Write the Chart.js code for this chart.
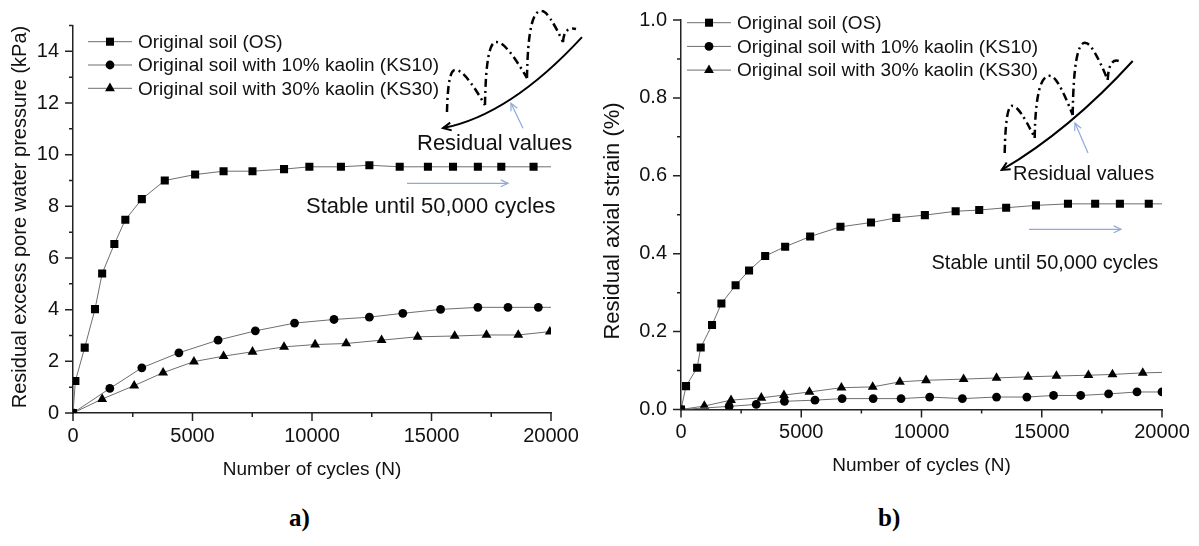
<!DOCTYPE html>
<html>
<head>
<meta charset="utf-8">
<title>Residual pore pressure and axial strain vs cycles</title>
<script src="https://cdn.jsdelivr.net/npm/chart.js@4.4.1/dist/chart.umd.min.js"></script>
<style>
    html, body { margin: 0; padding: 0; background: #fff; }
    #page { position: relative; width: 1199px; height: 546px; overflow: hidden; }
    canvas { position: absolute; top: 0; }
    #chartA { left: 0; }
    #chartB { left: 600px; }
    .tag { position: absolute; top: 504px; line-height: 1; color: #000;
           font: bold 25px "Liberation Serif", "Times New Roman", serif; }
</style>
</head>
<body>
<div id="page">
    <canvas id="chartA" width="600" height="490"></canvas>
    <canvas id="chartB" width="599" height="490"></canvas>
    <div class="tag" style="left:289px">a)</div>
    <div class="tag" style="left:878px">b)</div>
</div>
<script>
// Values
const cycleTicks = [0, 5000, 10000, 15000, 20000];
const cycleMinor = [2500, 7500, 12500, 17500];
const pressureTicks = [0, 2, 4, 6, 8, 10, 12, 14];
const pressureMinor = [1, 3, 5, 7, 9, 11, 13, 15];
const strainTicks = [0, 0.2, 0.4, 0.6, 0.8, 1.0];
const strainMinor = [0.1, 0.3, 0.5, 0.7, 0.9];

const seriesLabels = [
    'Original soil (OS)',
    'Original soil with 10% kaolin (KS10)',
    'Original soil with 30% kaolin (KS30)'
];

// a) residual excess pore water pressure (kPa)
const osCyclesA = [0, 100, 490, 920, 1220, 1730, 2190, 2880, 3840, 5110, 6300, 7510, 8830, 9890, 11210, 12400, 13670, 14850, 15900, 16940, 17920, 19270, 20500];
const osPressure = [0, 1.24, 2.53, 4.02, 5.40, 6.54, 7.48, 8.28, 9.00, 9.23, 9.36, 9.36, 9.44, 9.53, 9.53, 9.59, 9.53, 9.53, 9.53, 9.53, 9.53, 9.53, 9.53];
const ks10CyclesA = [0, 1540, 2880, 4430, 6070, 7630, 9270, 10920, 12400, 13800, 15380, 16940, 18200, 19470, 20500];
const ks10Pressure = [0, 0.95, 1.75, 2.33, 2.82, 3.18, 3.48, 3.62, 3.71, 3.86, 4.01, 4.09, 4.09, 4.09, 4.09];
const ks30CyclesA = [0, 1220, 2560, 3770, 5060, 6300, 7510, 8830, 10130, 11430, 12910, 14420, 15970, 17300, 18630, 19950];
const ks30Pressure = [0, 0.54, 1.06, 1.56, 1.99, 2.20, 2.37, 2.56, 2.65, 2.69, 2.82, 2.95, 2.98, 3.02, 3.02, 3.15];

// b) residual axial strain (%)
const osCyclesB = [0, 210, 670, 820, 1290, 1680, 2270, 2830, 3500, 4330, 5370, 6630, 7900, 8950, 10140, 11420, 12400, 13520, 14760, 16090, 17220, 18250, 19450, 20500];
const osStrain = [0, 0.060, 0.107, 0.159, 0.217, 0.272, 0.319, 0.357, 0.394, 0.418, 0.444, 0.469, 0.480, 0.492, 0.499, 0.509, 0.512, 0.518, 0.524, 0.528, 0.528, 0.528, 0.528, 0.528];
const ks10CyclesB = [0, 2000, 3130, 4300, 5570, 6700, 7990, 9150, 10340, 11700, 13120, 14380, 15490, 16620, 17780, 18960, 20000];
const ks10Strain = [0, 0.008, 0.013, 0.021, 0.024, 0.028, 0.028, 0.028, 0.032, 0.028, 0.032, 0.032, 0.036, 0.036, 0.040, 0.045, 0.045];
const ks30CyclesB = [0, 970, 2080, 3340, 4280, 5340, 6670, 7970, 9100, 10190, 11750, 13120, 14430, 15610, 16940, 17940, 19200, 20500];
const ks30Strain = [0, 0.009, 0.024, 0.030, 0.037, 0.045, 0.056, 0.058, 0.071, 0.075, 0.078, 0.081, 0.084, 0.086, 0.088, 0.090, 0.094, 0.096];

const FONT = '"Liberation Sans", Arial, sans-serif';
const INK = '#111';
const LINE_GREY = '#6e6e6e';
const NOTE_BLUE = '#8eaadb';

const markers = [
    { style: 'rect', radius: 5.7 },
    { style: 'circle', radius: 4.4 },
    { style: 'triangle', radius: 5.7 }
];

const panelA = {
    canvas: 'chartA',
    series: [[osCyclesA, osPressure], [ks10CyclesA, ks10Pressure], [ks30CyclesA, ks30Pressure]],
    yMax: 15, yTicks: pressureTicks, yMinor: pressureMinor, yFormat: v => String(v),
    yTitle: 'Residual excess pore water pressure (kPa)', yTitleSize: 20, yTitleAt: [20, 217],
    padding: { top: 25.5, right: 49, left: 0, bottom: 0 },
    yWidth: 73, xHeight: 77, xTitlePad: 8.6,
    legend: { x: 88, y: 41.7, step: 23.3 },
    noteSize: 22,
    residualText: [14393, 10.18], stableText: [9749, 7.73],
    stableArrow: [[13975, 8.89], [18200, 8.89]],
    residualArrow: [[18828, 11.02], [18326, 11.99]],
    sketchAt: [15481, 11.03],
    sketch: {
        ctrl: [67, -13], end: [139, -91],
        arches: [
            [[4, -16], [13, -58], [42, -23]],
            [[42, -23], [54, -86], [84, -50]],
            [[84, -50], [99, -117], [120, -86]],
            [[120, -86], [133, -99]]
        ]
    }
};

const panelB = {
    canvas: 'chartB',
    series: [[osCyclesB, osStrain], [ks10CyclesB, ks10Strain], [ks30CyclesB, ks30Strain]],
    yMax: 1.0, yTicks: strainTicks, yMinor: strainMinor, yFormat: v => v.toFixed(1),
    yTitle: 'Residual axial strain (%)', yTitleSize: 22, yTitleAt: [13, 221],
    padding: { top: 20, right: 37, left: 0, bottom: 0 },
    yWidth: 81, xHeight: 80.5, xTitlePad: 12.6,
    legend: { x: 87, y: 22.7, step: 23.7 },
    noteSize: 20,
    residualText: [13805, 0.589], stableText: [10416, 0.360],
    stableArrow: [[14470, 0.4626], [18295, 0.4626]],
    residualArrow: [[16923, 0.6585], [16383, 0.7355]],
    sketchAt: [13335, 0.615],
    sketch: {
        ctrl: [68, -40], end: [131, -109],
        arches: [
            [[3, -17], [11, -64], [33, -32]],
            [[33, -32], [49, -94], [71, -55]],
            [[71, -55], [84, -127], [106, -90]],
            [[106, -90], [117, -109]]
        ]
    }
};

function drawMarker(ctx, style, x, y, r) {
    ctx.beginPath();
    if (style === 'rect') {
        const s = r * Math.SQRT1_2;
        ctx.rect(x - s, y - s, 2 * s, 2 * s);
    } else if (style === 'circle') {
        ctx.arc(x, y, r, 0, Math.PI * 2);
    } else {
        ctx.moveTo(x, y - r);
        ctx.lineTo(x + r * 0.866, y + r * 0.5);
        ctx.lineTo(x - r * 0.866, y + r * 0.5);
        ctx.closePath();
    }
    ctx.fill();
}

function arrowHead(ctx, x, y, ang, len) {
    ctx.beginPath();
    ctx.moveTo(x - len * Math.cos(ang - 0.45), y - len * Math.sin(ang - 0.45));
    ctx.lineTo(x, y);
    ctx.lineTo(x - len * Math.cos(ang + 0.45), y - len * Math.sin(ang + 0.45));
    ctx.stroke();
}

function toPx(chart, pt) {
    return [chart.scales.x.getPixelForValue(pt[0]), chart.scales.y.getPixelForValue(pt[1])];
}

function drawTicks(ctx, chart, panel) {
    const area = chart.chartArea;
    const xs = chart.scales.x, ys = chart.scales.y;
    ctx.save();
    ctx.strokeStyle = '#222';
    ctx.lineWidth = 1.5;
    ctx.beginPath();
    const markX = (vals, len) => vals.forEach(v => {
        const p = xs.getPixelForValue(v);
        ctx.moveTo(p, area.bottom);
        ctx.lineTo(p, area.bottom + len);
    });
    const markY = (vals, len) => vals.forEach(v => {
        const p = ys.getPixelForValue(v);
        ctx.moveTo(area.left, p);
        ctx.lineTo(area.left - len, p);
    });
    markX(cycleTicks, 8);
    markX(cycleMinor, 4);
    markY(panel.yTicks, 8);
    markY(panel.yMinor, 4);
    ctx.stroke();

    // rotated y title
    ctx.fillStyle = INK;
    ctx.font = panel.yTitleSize + 'px ' + FONT;
    ctx.textAlign = 'center';
    ctx.textBaseline = 'middle';
    ctx.translate(panel.yTitleAt[0], panel.yTitleAt[1]);
    ctx.rotate(-Math.PI / 2);
    ctx.fillText(panel.yTitle, 0, 0);
    ctx.restore();
}

function drawLegend(ctx, panel) {
    const lg = panel.legend;
    ctx.save();
    ctx.font = '19px ' + FONT;
    ctx.textBaseline = 'middle';
    seriesLabels.forEach((label, i) => {
        const y = lg.y + i * lg.step;
        ctx.strokeStyle = LINE_GREY;
        ctx.lineWidth = 1;
        ctx.beginPath();
        ctx.moveTo(lg.x, y);
        ctx.lineTo(lg.x + 44, y);
        ctx.stroke();
        ctx.fillStyle = '#000';
        drawMarker(ctx, markers[i].style, lg.x + 22, y, markers[i].radius);
        ctx.fillStyle = INK;
        ctx.fillText(label, lg.x + 50, y + 1);
    });
    ctx.restore();
}

function drawNotes(ctx, chart, panel) {
    ctx.save();
    ctx.fillStyle = INK;
    ctx.font = panel.noteSize + 'px ' + FONT;
    ctx.textBaseline = 'alphabetic';
    let p = toPx(chart, panel.residualText);
    ctx.fillText('Residual values', p[0], p[1]);
    p = toPx(chart, panel.stableText);
    ctx.fillText('Stable until 50,000 cycles', p[0], p[1]);

    // thin blue pointer arrows
    ctx.strokeStyle = NOTE_BLUE;
    ctx.lineWidth = 1.2;
    [panel.stableArrow, panel.residualArrow].forEach(seg => {
        const a = toPx(chart, seg[0]), b = toPx(chart, seg[1]);
        ctx.beginPath();
        ctx.moveTo(a[0], a[1]);
        ctx.lineTo(b[0], b[1]);
        ctx.stroke();
        arrowHead(ctx, b[0], b[1], Math.atan2(b[1] - a[1], b[0] - a[0]), 8);
    });

    // sketch of cyclic peaks over the residual curve
    const [ox, oy] = toPx(chart, panel.sketchAt);
    const sk = panel.sketch;
    ctx.strokeStyle = '#000';
    ctx.lineWidth = 2;
    ctx.beginPath();
    ctx.moveTo(ox, oy);
    ctx.quadraticCurveTo(ox + sk.ctrl[0], oy + sk.ctrl[1], ox + sk.end[0], oy + sk.end[1]);
    ctx.stroke();
    arrowHead(ctx, ox, oy, Math.atan2(-sk.ctrl[1], -sk.ctrl[0]), 9);

    ctx.setLineDash([8, 4, 2, 4]);
    ctx.lineWidth = 2.5;
    ctx.beginPath();
    sk.arches.forEach(a => {
        const [s, top, e] = a;
        ctx.moveTo(ox + s[0], oy + s[1]);
        ctx.quadraticCurveTo(ox + s[0] + 1, oy + top[1] - 3, ox + top[0], oy + top[1]);
        if (e) {
            ctx.quadraticCurveTo(ox + top[0] + (e[0] - top[0]) * 0.3, oy + top[1],
                ox + e[0], oy + e[1]);
        }
    });
    ctx.stroke();
    ctx.restore();
}

function buildPanel(panel) {
    const datasets = panel.series.map(([xs, ys], i) => ({
        label: seriesLabels[i],
        data: xs.map((n, k) => ({ x: n, y: ys[k] })),
        borderColor: LINE_GREY,
        borderWidth: 1,
        pointStyle: markers[i].style,
        pointRadius: markers[i].radius,
        pointBackgroundColor: '#000',
        pointBorderColor: '#000',
        pointBorderWidth: 0,
        tension: 0
    }));

    const decorations = {
        id: 'decorations_' + panel.canvas,
        afterDraw(chart) {
            const ctx = chart.ctx;
            drawTicks(ctx, chart, panel);
            drawLegend(ctx, panel);
            drawNotes(ctx, chart, panel);
        }
    };

    return new Chart(document.getElementById(panel.canvas), {
        type: 'line',
        data: { datasets },
        options: {
            responsive: false,
            animation: false,
            devicePixelRatio: 1,
            layout: { padding: panel.padding },
            plugins: { legend: { display: false }, tooltip: { enabled: false } },
            scales: {
                x: {
                    type: 'linear',
                    min: 0,
                    max: 20000,
                    afterBuildTicks: s => { s.ticks = cycleTicks.map(v => ({ value: v })); },
                    afterFit: s => { s.height = panel.xHeight; },
                    grid: { display: false, drawTicks: true, tickLength: 8 },
                    border: { display: true, color: '#222', width: 1.5 },
                    ticks: {
                        padding: 3, color: INK, autoSkip: false, maxRotation: 0,
                        font: { size: 20 },
                        callback: v => String(v)
                    },
                    title: {
                        display: true, text: 'Number of cycles (N)', color: INK,
                        font: { size: 19 }, padding: { top: 0, bottom: panel.xTitlePad }
                    }
                },
                y: {
                    type: 'linear',
                    min: 0,
                    max: panel.yMax,
                    afterBuildTicks: s => { s.ticks = panel.yTicks.map(v => ({ value: v })); },
                    afterFit: s => { s.width = panel.yWidth; },
                    grid: { display: false, drawTicks: true, tickLength: 8 },
                    border: { display: true, color: '#222', width: 1.5 },
                    ticks: {
                        padding: 6, color: INK, autoSkip: false,
                        font: { size: 20 },
                        callback: panel.yFormat
                    },
                    title: { display: false }
                }
            }
        },
        plugins: [decorations]
    });
}

Chart.defaults.font.family = FONT;
Chart.defaults.color = INK;

buildPanel(panelA);
buildPanel(panelB);
</script>
</body>
</html>
